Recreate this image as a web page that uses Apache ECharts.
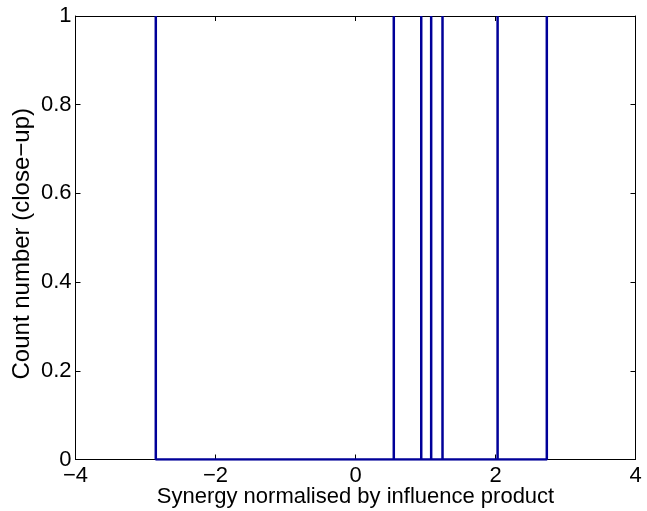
<!DOCTYPE html>
<html>
<head>
<meta charset="utf-8">
<script src="https://cdn.jsdelivr.net/npm/echarts@6/dist/echarts.min.js"></script>
<style>html,body{margin:0;padding:0;background:#fff}#c{width:647px;height:511px}</style>
</head>
<body>
<div id="c"></div>
<script>
// Data: positions of unit-count histogram spikes
var spikeValues = [-2.853, 0.547, 0.939, 1.081, 1.243, 2.03, 2.733];
var spikeCounts = [1, 1, 1, 1, 1, 1, 1];
var xTicks = [-4, -2, 0, 2, 4];
var yTicks = [0, 0.2, 0.4, 0.6, 0.8, 1];
var xTitle = 'Synergy normalised by influence product';
var yTitle = 'Count number (close\u2212up)';

// stairs path built from data
var stairs = [];
for (var i = 0; i < spikeValues.length; i++) {
  stairs.push([spikeValues[i], 0]);
  stairs.push([spikeValues[i], spikeCounts[i]]);
  stairs.push([spikeValues[i], 0]);
}

var font = 'Liberation Sans, Arial, Helvetica, sans-serif';
var fs = 22;
var fmt = function (v) { return String(v).replace('-', '\u2212'); };
var chart = echarts.init(document.getElementById('c'), null, {renderer: 'canvas'});
var axisLine = {show: true, onZero: false, lineStyle: {color: '#000', width: 1}};
var tick = {show: true, inside: true, length: 5, lineStyle: {color: '#000'}};
chart.setOption({
  animation: false,
  grid: {left: 75.5, right: 11.5, top: 16, bottom: 51.5, containLabel: false, outerBoundsMode: 'none'},
  xAxis: [{
    type: 'value', min: xTicks[0], max: xTicks[xTicks.length - 1], interval: 2, position: 'bottom',
    axisLine: axisLine, axisTick: tick, splitLine: {show: false},
    axisLabel: {color: '#000', fontSize: fs, fontFamily: font, margin: 5, formatter: fmt},
    name: xTitle, nameLocation: 'middle', nameGap: 26, nameMoveOverlap: false,
    nameTextStyle: {color: '#000', fontSize: fs, fontFamily: font}
  }, {
    type: 'value', min: xTicks[0], max: xTicks[xTicks.length - 1], interval: 2, position: 'top',
    axisLine: axisLine, axisTick: tick, splitLine: {show: false}, axisLabel: {show: false}
  }],
  yAxis: [{
    type: 'value', min: yTicks[0], max: yTicks[yTicks.length - 1], interval: 0.2, position: 'left',
    axisLine: axisLine, axisTick: tick, splitLine: {show: false},
    axisLabel: {color: '#000', fontSize: fs, fontFamily: font, margin: 4, formatter: fmt},
    name: yTitle, nameLocation: 'middle', nameGap: 41, nameMoveOverlap: false,
    nameTextStyle: {color: '#000', fontSize: 24, fontFamily: font, padding: [0, 12, 0, 0]}
  }, {
    type: 'value', min: yTicks[0], max: yTicks[yTicks.length - 1], interval: 0.2, position: 'right',
    axisLine: axisLine, axisTick: tick, splitLine: {show: false}, axisLabel: {show: false}
  }],
  series: [{
    type: 'line', data: stairs, xAxisIndex: 0, yAxisIndex: 0,
    showSymbol: false, symbol: 'none',
    lineStyle: {color: '#000099', width: 2.5}, z: 1
  }]
});
</script>
</body>
</html>
